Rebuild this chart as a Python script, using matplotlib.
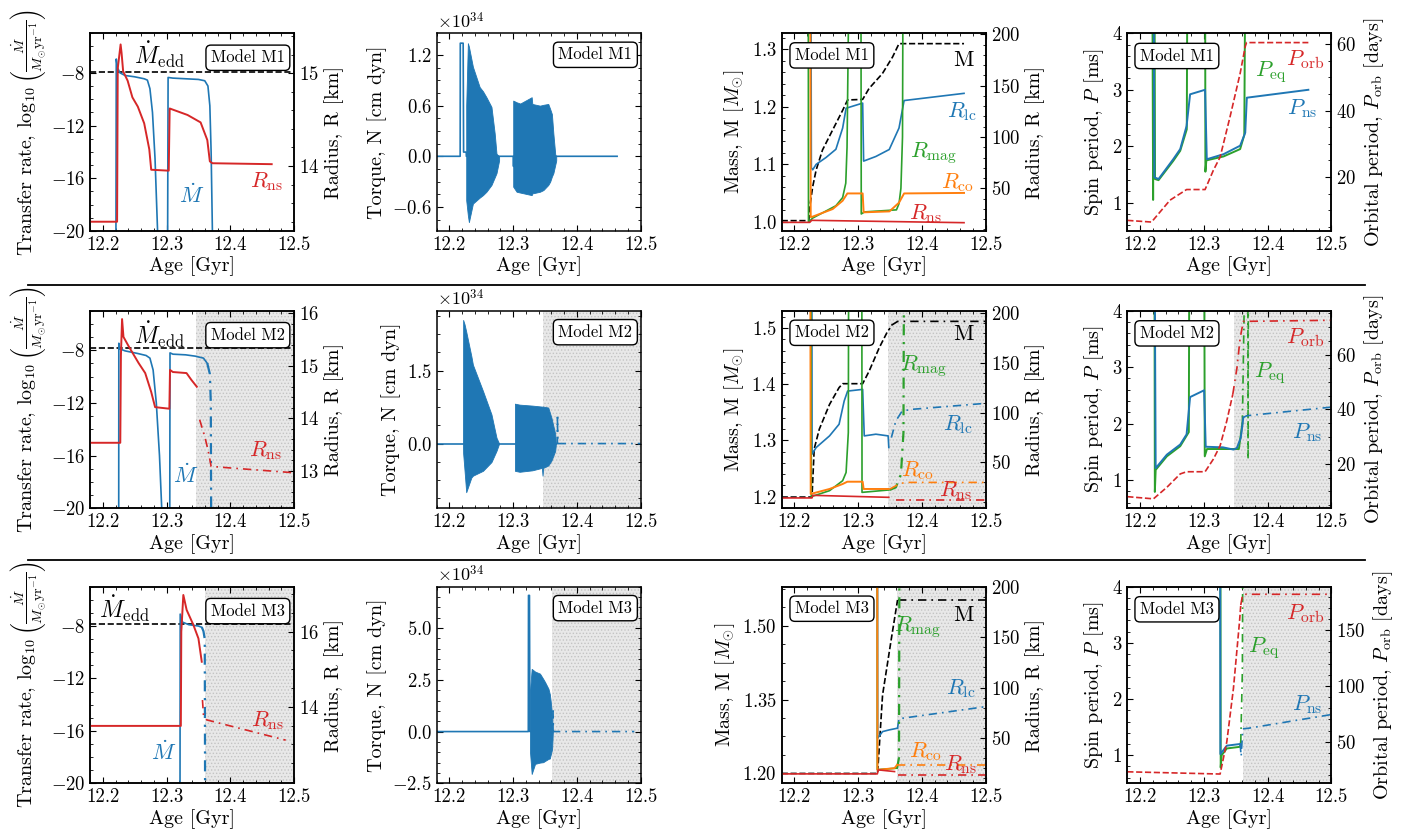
import numpy as np
import matplotlib
matplotlib.use('Agg')
import matplotlib.pyplot as plt
from matplotlib.lines import Line2D
from matplotlib.ticker import AutoMinorLocator

plt.rcParams.update({
    'font.family': 'serif',
    'font.serif': ['cmr10'],
    'mathtext.fontset': 'cm',
    'axes.formatter.use_mathtext': True,
    'font.size': 13,
    'axes.linewidth': 1.1,
    'xtick.major.size': 4.5, 'ytick.major.size': 4.5,
    'xtick.minor.size': 2.5, 'ytick.minor.size': 2.5,
    'hatch.linewidth': 0.6,
})

BLUE, RED, GREEN, ORANGE = '#1f77b4', '#d62728', '#2ca02c', '#ff7f0e'
LATE = (0, (5, 3, 1, 3))
TICK_FS, LABEL_FS, TAG_FS = 13.5, 14.5, 16

# ---------------- Model M1 ----------------
m1_edd = -7.97
m1_mdot = [(12.180, -25), (12.2205, -25), (12.2212, -6.95), (12.223, -7.6), (12.227, -8.0), (12.235, -8.2),
           (12.250, -8.3), (12.265, -8.45), (12.270, -8.55), (12.274, -9.2), (12.278, -11.0), (12.282, -14.5),
           (12.286, -20.0), (12.288, -25), (12.3015, -25), (12.3025, -8.35), (12.310, -8.4), (12.330, -8.45),
           (12.350, -8.5), (12.360, -8.6), (12.365, -9.0), (12.368, -10.5), (12.370, -14.0), (12.372, -20.0),
           (12.373, -25), (12.465, -25)]
m1_rns = [(12.180, 13.40), (12.2225, 13.40), (12.2235, 15.05), (12.228, 15.31), (12.2295, 15.22), (12.232, 15.02),
          (12.239, 14.92), (12.2465, 14.74), (12.255, 14.64), (12.265, 14.46), (12.273, 14.18), (12.276, 13.96),
          (12.3035, 13.95), (12.305, 14.62), (12.333, 14.55), (12.3535, 14.47), (12.364, 14.28), (12.368, 14.05),
          (12.372, 14.03), (12.465, 14.02)]

m1_torque = [(12.180, 0), (12.2168, 0), (12.2170, 1.34), (12.2215, 1.34), (12.2222, 0.05), (12.2263, 0.05),
             (12.2265, 0), (12.2779, 0), (12.300, 0), (12.3005, -0.12), (12.301, 0), (12.463, 0)]
m1_burst1 = [(12.2263, -0.52, 0.60), (12.2289, -0.70, 1.34), (12.2305, -0.78, 1.30), (12.2368, -0.56, 1.06),
             (12.2474, -0.49, 0.82), (12.2526, -0.46, 0.77), (12.2580, -0.42, 0.70), (12.2659, -0.34, 0.585),
             (12.2710, -0.25, 0.27), (12.2738, -0.20, 0.03), (12.2779, -0.05, 0.0)]
m1_burst2 = [(12.3000, -0.36, 0.66), (12.3053, -0.42, 0.64), (12.3110, -0.43, 0.625), (12.3290, -0.46, 0.70),
             (12.3300, -0.44, 0.62), (12.3420, -0.42, 0.60), (12.3474, -0.40, 0.61), (12.3550, -0.34, 0.62),
             (12.3580, -0.30, 0.56), (12.3607, -0.24, 0.50), (12.3630, -0.20, 0.27), (12.3660, -0.10, 0.02),
             (12.3675, -0.05, 0.0)]

m1_mass = [(12.180, 1.002), (12.2225, 1.002), (12.2245, 1.030), (12.2286, 1.061), (12.234, 1.090), (12.244, 1.125),
           (12.260, 1.160), (12.2756, 1.194), (12.2834, 1.212), (12.307, 1.213), (12.317, 1.232), (12.338, 1.258),
           (12.354, 1.287), (12.364, 1.310), (12.466, 1.310)]
m1_rlc = [(12.180, 400), (12.2255, 400), (12.2265, 70), (12.2286, 68), (12.234, 73.3), (12.2495, 80), (12.265, 88),
          (12.2756, 108.7), (12.281, 128), (12.307, 133), (12.3085, 76.5), (12.3277, 81), (12.3487, 87.8),
          (12.364, 108.7), (12.372, 135.5), (12.466, 142.5)]
m1_rmag = [(12.180, 400), (12.2215, 400), (12.222, 17), (12.2286, 21), (12.265, 33), (12.2756, 41), (12.2805, 55),
           (12.2825, 90), (12.2845, 200), (12.2855, 400), (12.304, 400), (12.3048, 25), (12.310, 27), (12.360, 29),
           (12.364, 35), (12.367, 50), (12.3695, 100), (12.371, 400), (12.466, 400)]
m1_rco = [(12.180, 400), (12.2245, 400), (12.2255, 22), (12.2286, 22.4), (12.260, 29.8), (12.2756, 37.9),
          (12.283, 45), (12.307, 45), (12.3085, 26.6), (12.349, 27.5), (12.364, 36), (12.372, 45), (12.466, 45.5)]
m1_rns_c = [(12.180, 16.8), (12.224, 16.8), (12.227, 18.8), (12.466, 16.5)]

m1_pns = [(12.180, 6), (12.221, 6), (12.2225, 1.45), (12.229, 1.42), (12.252, 1.77), (12.263, 1.95), (12.273, 2.36),
          (12.2785, 2.92), (12.302, 3.0), (12.3047, 1.77), (12.331, 1.86), (12.357, 2.01), (12.365, 2.24),
          (12.3675, 2.86), (12.464, 3.0)]
m1_peq = [(12.180, 6), (12.219, 6), (12.2205, 1.05), (12.2215, 6), (12.2225, 6), (12.2235, 1.42), (12.229, 1.40),
          (12.252, 1.74), (12.263, 1.92), (12.2733, 2.30), (12.2745, 6), (12.302, 6), (12.3025, 1.55),
          (12.304, 1.75), (12.331, 1.82), (12.357, 1.95), (12.3635, 2.20), (12.3655, 6), (12.464, 6)]
m1_porb = [(12.180, 6.9), (12.218, 6.4), (12.247, 13.0), (12.273, 16.2), (12.302, 16.2), (12.315, 22.0),
           (12.3256, 26.0), (12.341, 38.0), (12.357, 51.2), (12.365, 59.3), (12.367, 60.5), (12.464, 60.5)]

# ---------------- Model M2 ----------------
m2_start = 12.347
m2_edd = -7.8
m2_mdot = [(12.180, -25), (12.2250, -25), (12.2252, -7.47), (12.227, -7.9), (12.235, -8.05), (12.255, -8.25),
           (12.268, -8.4), (12.274, -8.6), (12.279, -9.5), (12.284, -12), (12.289, -16), (12.2925, -20),
           (12.293, -25), (12.305, -25), (12.3055, -8.2), (12.310, -8.3), (12.330, -8.35), (12.345, -8.45),
           (12.358, -8.6), (12.364, -9.0)]
m2_mdot_late = [(12.364, -9.0), (12.368, -9.8), (12.3695, -12), (12.370, -20), (12.3702, -25)]
m2_rns = [(12.180, 13.53), (12.2275, 13.53), (12.2285, 15.2), (12.2303, 15.89), (12.2325, 15.55), (12.2407, 15.37),
          (12.2563, 15.05), (12.2666, 14.86), (12.276, 14.5), (12.2821, 14.21), (12.3045, 14.18), (12.3055, 14.92),
          (12.310, 14.88), (12.3314, 14.86), (12.339, 14.73), (12.3475, 14.60)]
m2_rns_late = [(12.352, 13.97), (12.360, 13.65), (12.365, 13.40), (12.370, 13.08), (12.400, 13.05), (12.498, 12.96)]

m2_torque = [(12.180, 0), (12.367, 0)]
m2_torque_late = [(12.367, 0), (12.3693, 0), (12.3695, 0.6), (12.3697, 0), (12.500, 0)]
m2_burst1 = [(12.2213, 0.0, 0.0), (12.2215, -0.2, 2.54), (12.2237, -0.56, 2.45), (12.2263, -1.0, 2.30),
             (12.2343, -0.70, 1.80), (12.2368, -0.66, 1.62), (12.2526, -0.56, 1.08), (12.2659, -0.38, 0.60),
             (12.2738, -0.15, 0.12), (12.2779, 0.0, 0.0)]
m2_burst2 = [(12.3027, -0.56, 0.82), (12.310, -0.58, 0.80), (12.330, -0.55, 0.78), (12.345, -0.50, 0.76),
             (12.346, -0.66, 0.76), (12.347, -0.50, 0.76), (12.355, -0.45, 0.74), (12.360, -0.35, 0.53),
             (12.3659, -0.15, 0.20), (12.367, 0.0, 0.0)]

m2_mass = [(12.180, 1.199), (12.2275, 1.199), (12.231, 1.285), (12.239, 1.320), (12.255, 1.364), (12.270, 1.394),
           (12.2756, 1.401), (12.307, 1.401), (12.317, 1.423), (12.333, 1.465), (12.346, 1.494), (12.350, 1.500)]
m2_mass_late = [(12.352, 1.505), (12.362, 1.512), (12.500, 1.512)]
m2_rlc = [(12.180, 400), (12.2272, 400), (12.2276, 58.4), (12.234, 65), (12.255, 76.7), (12.270, 88.4),
          (12.278, 111.7), (12.2834, 121.7), (12.307, 123.4), (12.3095, 76.7), (12.3277, 78.4), (12.347, 76.7),
          (12.348, 65)]
m2_rlc_late = [(12.352, 75), (12.359, 91.7), (12.369, 101.7), (12.385, 103.4), (12.500, 109.4)]
m2_rmag = [(12.180, 400), (12.2255, 400), (12.2265, 15.7), (12.255, 21.7), (12.2756, 31.7), (12.281, 40),
           (12.2845, 80), (12.2855, 400), (12.3055, 400), (12.306, 20), (12.348, 22.4)]
m2_rmag_late = [(12.349, 22.4), (12.359, 25), (12.367, 38), (12.371, 80), (12.3725, 400), (12.500, 400)]
m2_rco = [(12.180, 400), (12.2245, 400), (12.2255, 18.4), (12.255, 23.4), (12.2756, 28.4), (12.283, 30.7),
          (12.307, 30.7), (12.3085, 23.4), (12.348, 23.4)]
m2_rco_late = [(12.350, 23.4), (12.364, 28.4), (12.3737, 30), (12.500, 30)]
m2_rns_c = [(12.180, 14.4), (12.2275, 14.4), (12.229, 17.0), (12.348, 15.0)]
m2_rns_c_late = [(12.360, 12.7), (12.500, 12.7)]

m2_pns = [(12.180, 6), (12.2225, 6), (12.2245, 1.21), (12.242, 1.45), (12.263, 1.63), (12.273, 1.81),
          (12.2785, 2.47), (12.3005, 2.59), (12.303, 1.59), (12.330, 1.58), (12.3465, 1.54), (12.352, 1.57),
          (12.358, 1.75), (12.362, 2.11)]
m2_pns_late = [(12.362, 2.11), (12.3675, 2.14), (12.498, 2.29)]
m2_peq = [(12.180, 6), (12.2225, 6), (12.2232, 0.79), (12.2245, 1.18), (12.242, 1.42), (12.263, 1.60),
          (12.2765, 1.85), (12.2775, 6), (12.3005, 6), (12.3015, 1.42), (12.305, 1.55), (12.330, 1.55),
          (12.355, 1.55), (12.3605, 2.0)]
m2_peq_late = [(12.3605, 2.0), (12.366, 6.0), (12.369, 6.0), (12.3695, 1.36), (12.370, 6.0), (12.500, 6.0)]
m2_porb = [(12.180, 8.1), (12.221, 7.3), (12.242, 11.5), (12.263, 16.4), (12.273, 17.2), (12.302, 17.2),
           (12.315, 21.8), (12.3256, 26.7), (12.336, 35.7), (12.3455, 45.5)]
m2_porb_late = [(12.3455, 45.5), (12.352, 55.1), (12.357, 66.0), (12.362, 72.1), (12.500, 72.5)]

# ---------------- Model M3 ----------------
m3_start = 12.361
m3_edd = -7.85
m3_mdot = [(12.180, -25), (12.3211, -25), (12.3215, -7.09), (12.325, -7.7), (12.335, -7.9), (12.350, -8.0),
           (12.3555, -8.1)]
m3_mdot_late = [(12.3555, -8.1), (12.358, -8.4), (12.360, -9.0), (12.3605, -20), (12.3607, -25)]
m3_rns = [(12.180, 13.49), (12.3225, 13.49), (12.3232, 16.0), (12.3264, 16.98), (12.3316, 16.58),
          (12.3422, 16.18), (12.3501, 15.82), (12.3553, 15.20)]
m3_rns_late = [(12.3564, 14.18), (12.358, 13.78), (12.3632, 13.65), (12.487, 13.11)]

m3_torque = [(12.180, 0), (12.3237, 0), (12.3240, 6.58), (12.3255, 6.58), (12.3262, 0), (12.362, 0)]
m3_burst = [(12.3264, -1.0, 2.0), (12.329, -2.05, 3.03), (12.3343, -1.56, 2.90), (12.342, -1.50, 2.80),
            (12.347, -1.48, 2.55), (12.350, -1.42, 2.39), (12.3553, -1.32, 2.07), (12.3575, -1.30, 1.80),
            (12.359, -1.10, 1.42), (12.361, -0.85, 0.80), (12.3622, 0.0, 0.0)]
m3_torque_late = [(12.362, 0), (12.3625, 1.0), (12.363, 0), (12.490, 0)]

m3_mass = [(12.180, 1.200), (12.3304, 1.200), (12.3382, 1.359), (12.3512, 1.467), (12.3617, 1.552)]
m3_mass_late = [(12.3617, 1.552), (12.500, 1.552)]
m3_rlc = [(12.180, 400), (12.3300, 400), (12.3305, 49.4), (12.3382, 56.0), (12.3487, 57.7), (12.3617, 59.4)]
m3_rlc_late = [(12.3617, 59.4), (12.364, 69.3), (12.369, 69.3), (12.500, 80.9)]
m3_rmag = [(12.180, 400), (12.3298, 400), (12.3300, 18), (12.361, 19.5)]
m3_rmag_late = [(12.361, 19.5), (12.364, 30), (12.3652, 400), (12.500, 400)]
m3_rco = [(12.180, 400), (12.3296, 400), (12.3302, 17.8), (12.357, 19.5), (12.361, 22.8)]
m3_rco_late = [(12.361, 22.8), (12.500, 22.8)]
m3_rns_c = [(12.180, 13.8), (12.3300, 13.8), (12.3315, 17.8), (12.357, 16.1)]
m3_rns_c_late = [(12.362, 12.8), (12.500, 12.8)]

m3_pns = [(12.180, 6), (12.3255, 6), (12.326, 1.02), (12.3361, 1.17), (12.357, 1.20)]
m3_pns_late = [(12.357, 1.20), (12.3586, 0.98), (12.3612, 1.47), (12.370, 1.48), (12.498, 1.72)]
m3_peq = [(12.180, 6), (12.326, 6), (12.3265, 0.78), (12.328, 1.00), (12.3361, 1.12), (12.357, 1.15),
          (12.358, 1.23)]
m3_peq_late = [(12.358, 1.23), (12.3605, 2.5), (12.3615, 6), (12.500, 6)]
m3_porb = [(12.180, 23.1), (12.3256, 21.1), (12.3361, 50.0), (12.3465, 97.8), (12.356, 157.4), (12.358, 172.4)]
m3_porb_late = [(12.358, 172.4), (12.361, 182.0), (12.500, 182.0)]

AGE_TICKS = [12.2, 12.3, 12.4, 12.5]

# ---------------- layout (pixels) ----------------
W, H = 1402, 830
COL_X = [90, 436.7, 781.7, 1127.3]
ROW_Y = [(33.3, 231.0), (310.7, 508.3), (586.7, 783.3)]
PW = 204

fig = plt.figure(figsize=(W / 100, H / 100), dpi=100)


def new_axes(col, row):
    x0 = COL_X[col]
    y0, y1 = ROW_Y[row]
    return fig.add_axes([x0 / W, 1 - y1 / H, PW / W, (y1 - y0) / H])


def draw(ax, data, color, ls='-', lw=1.2, z=2):
    a = np.asarray(data, dtype=float)
    ax.plot(a[:, 0], a[:, 1], color=color, ls=ls, lw=lw, zorder=z)


def burst(ax, data):
    a = np.asarray(data, dtype=float)
    ax.fill_between(a[:, 0], a[:, 1], a[:, 2], color=BLUE, lw=0.6, edgecolor=BLUE)


def base_style(ax, twin=False):
    ax.set_xlim(12.18, 12.5)
    ax.set_xticks(AGE_TICKS, labels=['12.2', '12.3', '12.4', '12.5'])
    ax.xaxis.set_minor_locator(AutoMinorLocator())
    ax.yaxis.set_minor_locator(AutoMinorLocator())
    ax.tick_params(which='both', direction='in', top=True, right=not twin, labelsize=TICK_FS)
    ax.set_xlabel('Age [Gyr]', fontsize=LABEL_FS, labelpad=2)


def twin_style(ax2):
    ax2.yaxis.set_minor_locator(AutoMinorLocator())
    ax2.tick_params(which='both', direction='in', right=True, labelsize=TICK_FS)


def shade(ax, start):
    if start is not None:
        ax.axvspan(start, 12.5, facecolor='#e8e8e8', edgecolor='#c4c4c4', hatch='.....', lw=0, zorder=0)


def box(ax, name, x, y, ha):
    ax.text(x, y, name, transform=ax.transAxes, ha=ha, va='top', fontsize=12, zorder=20,
            bbox=dict(boxstyle='round,pad=0.3', fc='white', ec='black', lw=1.0))


def tag(ax, s, x, y, color, size=TAG_FS):
    ax.text(x, y, s, transform=ax.transAxes, ha='center', va='center', color=color, fontsize=size, zorder=15)


models = [
    dict(name='Model M1', start=None, edd=m1_edd, mdot=m1_mdot, mdot_late=None, rns=m1_rns, rns_late=None,
         rlim=(13.30, 15.43), rticks=[14, 15],
         torque=m1_torque, torque_late=None, bursts=[m1_burst1, m1_burst2], tlim=(-0.885, 1.457),
         tticks=[-0.6, 0.0, 0.6, 1.2],
         mass=m1_mass, mass_late=None, rlc=m1_rlc, rlc_late=None, rmag=m1_rmag, rmag_late=None,
         rco=m1_rco, rco_late=None, rnsc=m1_rns_c, rnsc_late=None, mlim=(0.984, 1.328),
         mticks=[1.0, 1.1, 1.2, 1.3], radlim=(8.4, 201),
         pns=m1_pns, pns_late=None, peq=m1_peq, peq_late=None, porb=m1_porb, porb_late=None,
         olim=(3.7, 63.3), oticks=[20, 40, 60],
         t1=[(0.34, 0.89), (0.498, 0.18), (0.866, 0.25)],
         t3=[(0.893, 0.865), (0.885, 0.603), (0.746, 0.392), (0.86, 0.243), (0.705, 0.088)],
         t4=[(0.872, 0.865), (0.701, 0.805), (0.856, 0.62)]),
    dict(name='Model M2', start=m2_start, edd=m2_edd, mdot=m2_mdot, mdot_late=m2_mdot_late, rns=m2_rns,
         rns_late=m2_rns_late, rlim=(12.28, 16.05), rticks=[13, 14, 15, 16],
         torque=m2_torque, torque_late=m2_torque_late, bursts=[m2_burst1, m2_burst2], tlim=(-1.33, 2.73),
         tticks=[0.0, 1.5],
         mass=m2_mass, mass_late=m2_mass_late, rlc=m2_rlc, rlc_late=m2_rlc_late, rmag=m2_rmag,
         rmag_late=m2_rmag_late, rco=m2_rco, rco_late=m2_rco_late, rnsc=m2_rns_c, rnsc_late=m2_rns_c_late,
         mlim=(1.179, 1.531), mticks=[1.2, 1.3, 1.4, 1.5], radlim=(4, 202.4),
         pns=m2_pns, pns_late=m2_pns_late, peq=m2_peq, peq_late=m2_peq_late, porb=m2_porb,
         porb_late=m2_porb_late, olim=(3.85, 76), oticks=[20, 40, 60],
         t1=[(0.34, 0.88), (0.47, 0.17), (0.86, 0.29)],
         t3=[(0.893, 0.879), (0.861, 0.425), (0.697, 0.719), (0.664, 0.19), (0.851, 0.09)],
         t4=[(0.872, 0.862), (0.70, 0.685), (0.881, 0.383)]),
    dict(name='Model M3', start=m3_start, edd=m3_edd, mdot=m3_mdot, mdot_late=m3_mdot_late, rns=m3_rns,
         rns_late=m3_rns_late, rlim=(11.96, 17.2), rticks=[14, 16],
         torque=m3_torque, torque_late=m3_torque_late, bursts=[m3_burst], tlim=(-2.5, 7.0),
         tticks=[-2.5, 0.0, 2.5, 5.0],
         mass=m3_mass, mass_late=m3_mass_late, rlc=m3_rlc, rlc_late=m3_rlc_late, rmag=m3_rmag,
         rmag_late=m3_rmag_late, rco=m3_rco, rco_late=m3_rco_late, rnsc=m3_rns_c, rnsc_late=m3_rns_c_late,
         mlim=(1.18, 1.579), mticks=[1.2, 1.35, 1.5], radlim=(4.4, 200.6),
         pns=m3_pns, pns_late=m3_pns_late, peq=m3_peq, peq_late=m3_peq_late, porb=m3_porb,
         porb_late=m3_porb_late, olim=(12.8, 188.8), oticks=[50, 100, 150],
         t1=[(0.17, 0.89), (0.36, 0.16), (0.87, 0.32)],
         t3=[(0.893, 0.856), (0.877, 0.484), (0.664, 0.797), (0.705, 0.161), (0.877, 0.093)],
         t4=[(0.872, 0.865), (0.668, 0.687), (0.881, 0.398)]),
]


def late(ax, data, color, lw=1.2):
    if data is not None:
        draw(ax, data, color, ls=LATE, lw=lw)


for r, m in enumerate(models):
    # ---- column 1: transfer rate and NS radius ----
    ax = new_axes(0, r)
    ax2 = ax.twinx()
    shade(ax, m['start'])
    ax.axhline(m['edd'], color='black', ls='--', lw=1.2)
    draw(ax, m['mdot'], BLUE)
    late(ax, m['mdot_late'], BLUE, lw=1.6)
    draw(ax2, m['rns'], RED, lw=1.4)
    late(ax2, m['rns_late'], RED)
    ax.set_ylim(-20, -5)
    ax.set_yticks([-20, -16, -12, -8])
    ax2.set_ylim(*m['rlim'])
    ax2.set_yticks(m['rticks'])
    base_style(ax, twin=True)
    twin_style(ax2)
    ax.set_ylabel(r'Transfer rate, $\log_{10}\left(\frac{\dot{M}}{M_{\odot}\mathrm{yr}^{-1}}\right)$',
                  fontsize=LABEL_FS, labelpad=2)
    ax2.set_ylabel('Radius, R [km]', fontsize=LABEL_FS)
    (a, b), (c, d), (e, f) = m['t1']
    tag(ax2, r'$\dot{M}_{\mathrm{edd}}$', a, b, 'black', size=17)
    tag(ax2, r'$\dot{M}$', c, d, BLUE)
    tag(ax2, r'$R_{\mathrm{ns}}$', e, f, RED)
    box(ax2, m['name'], 0.955, 0.915, 'right')

    # ---- column 2: torque ----
    ax = new_axes(1, r)
    shade(ax, m['start'])
    draw(ax, m['torque'], BLUE)
    late(ax, m['torque_late'], BLUE)
    for bb in m['bursts']:
        burst(ax, bb)
    ax.set_ylim(*m['tlim'])
    ax.set_yticks(m['tticks'])
    base_style(ax)
    ax.set_ylabel('Torque, N [cm dyn]', fontsize=LABEL_FS)
    ax.text(0.0, 1.01, r'$\times10^{34}$', transform=ax.transAxes, ha='left', va='bottom', fontsize=13)
    box(ax, m['name'], 0.959, 0.93, 'right')

    # ---- column 3: mass and characteristic radii ----
    ax = new_axes(2, r)
    ax2 = ax.twinx()
    shade(ax, m['start'])
    draw(ax, m['mass'], 'black', ls='--')
    late(ax, m['mass_late'], 'black')
    draw(ax2, m['rlc'], BLUE)
    late(ax2, m['rlc_late'], BLUE)
    draw(ax2, m['rmag'], GREEN)
    late(ax2, m['rmag_late'], GREEN, lw=1.6)
    draw(ax2, m['rco'], ORANGE, lw=1.4)
    late(ax2, m['rco_late'], ORANGE)
    draw(ax2, m['rnsc'], RED)
    late(ax2, m['rnsc_late'], RED)
    ax.set_ylim(*m['mlim'])
    ax.set_yticks(m['mticks'])
    ax2.set_ylim(*m['radlim'])
    ax2.set_yticks([50, 100, 150, 200])
    base_style(ax, twin=True)
    twin_style(ax2)
    ax.set_ylabel(r'Mass, M [$M_{\odot}$]', fontsize=LABEL_FS)
    ax2.set_ylabel('Radius, R [km]', fontsize=LABEL_FS)
    pm, plc, pmag, pco, pns = m['t3']
    tag(ax2, 'M', *pm, 'black')
    tag(ax2, r'$R_{\mathrm{lc}}$', *plc, BLUE)
    tag(ax2, r'$R_{\mathrm{mag}}$', *pmag, GREEN)
    tag(ax2, r'$R_{\mathrm{co}}$', *pco, ORANGE)
    tag(ax2, r'$R_{\mathrm{ns}}$', *pns, RED)
    box(ax2, m['name'], 0.065, 0.927, 'left')

    # ---- column 4: spin and orbital period ----
    ax = new_axes(3, r)
    ax2 = ax.twinx()
    shade(ax, m['start'])
    draw(ax, m['peq'], GREEN, lw=1.4)
    late(ax, m['peq_late'], GREEN)
    draw(ax, m['pns'], BLUE, lw=1.4)
    late(ax, m['pns_late'], BLUE)
    draw(ax2, m['porb'], RED, ls='--')
    late(ax2, m['porb_late'], RED)
    ax.set_ylim(0.5, 4.0)
    ax.set_yticks([1, 2, 3, 4])
    ax2.set_ylim(*m['olim'])
    ax2.set_yticks(m['oticks'])
    base_style(ax, twin=True)
    twin_style(ax2)
    ax.set_ylabel(r'Spin period, $P$ [ms]', fontsize=LABEL_FS)
    ax2.set_ylabel(r'Orbital period, $P_{\mathrm{orb}}$ [days]', fontsize=LABEL_FS)
    po, pe, pn = m['t4']
    tag(ax2, r'$P_{\mathrm{orb}}$', *po, RED)
    tag(ax2, r'$P_{\mathrm{eq}}$', *pe, GREEN)
    tag(ax2, r'$P_{\mathrm{ns}}$', *pn, BLUE)
    box(ax2, m['name'], 0.062, 0.924, 'left')

# separators between the model rows
for ypx in (285, 560):
    fig.add_artist(Line2D([28 / W, 1365 / W], [1 - ypx / H, 1 - ypx / H], transform=fig.transFigure,
                          color='black', lw=1.3))

fig.savefig('out.png', dpi=100)
